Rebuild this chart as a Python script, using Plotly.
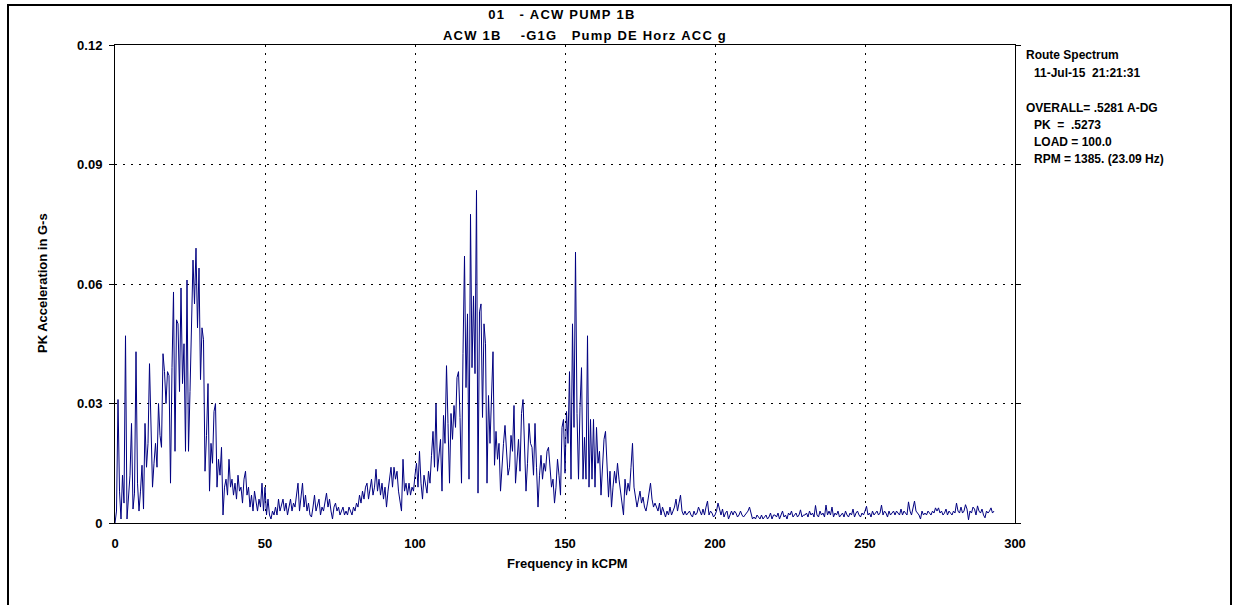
import plotly.graph_objects as go

# Spectrum amplitude in milli-g, one value every 0.5 kCPM starting at 0 kCPM
freq_step_kcpm = 0.5
accel_mg = [
    # 0 - 9.5
    0, 3, 31, 8, 1, 12, 5, 47, 1, 6, 12, 25, 3.5, 7.5, 43, 10, 3, 8, 14.5, 3.5,
    # 10 - 19.5
    25, 14, 20, 40, 23, 9, 15, 20, 14, 30, 22, 19, 42.5, 38, 30, 38, 37, 10, 39, 58,
    # 20 - 29.5
    18, 51, 50, 33, 59, 35, 45, 18, 61, 18, 33, 50, 66, 55, 69, 49, 64, 36, 49, 46,
    # 30 - 39.5
    13, 22, 35, 8, 20, 15, 28, 30, 9, 16, 12, 19, 2, 9, 11, 7, 16, 9, 11, 7,
    # 40 - 49.5
    10, 6, 12, 8, 9, 5, 11, 13, 7, 9, 4, 7, 3, 8, 5, 3, 6, 4, 10, 3,
    # 50 - 59.5
    9, 2, 6, 2, 1, 3, 2, 4, 2, 6, 3, 5, 6, 3, 5, 2, 4, 6, 3, 5,
    # 60 - 69.5
    4, 7, 10, 3, 6, 10, 4, 7, 3, 5, 2, 1.5, 4, 7, 3, 5, 6, 2, 4, 3,
    # 70 - 79.5
    5, 7.5, 4, 6, 3, 1, 4, 5, 3, 4, 2, 3, 4, 2, 3, 2, 4, 3, 2, 4,
    # 80 - 89.5
    3, 5, 4, 7, 5, 8, 6, 9, 10, 6, 8, 11, 7, 9, 13.5, 8, 11, 7, 10, 6,
    # 90 - 99.5
    9, 4, 8, 12, 14, 9, 14, 11, 13, 8, 5, 3, 16, 8, 10, 7, 10, 7, 9, 8,
    # 100 - 109.5
    12, 15, 9, 18, 10, 6, 12, 9, 7.5, 13, 10, 17, 23, 14, 30, 13, 18, 21, 8, 27,
    # 110 - 119.5
    20, 39.5, 25, 10, 27.5, 21, 29.5, 24, 36.5, 38, 26.5, 10, 42.5, 67, 34, 52.5, 11, 77.5, 39, 57,
    # 120 - 129.5
    37.5, 83.5, 7.5, 53, 55, 26.5, 50, 45, 10, 32, 20, 32, 43, 14.5, 23, 16, 20, 8, 15, 20,
    # 130 - 139.5
    24.5, 17, 12, 14, 22, 18, 29.5, 10, 16, 21, 13, 27.5, 31, 18, 8, 15, 25, 20, 19, 12,
    # 140 - 149.5
    25, 14, 4, 12, 17, 11, 15, 13, 18, 19, 13, 9, 11, 5, 9, 16, 12, 7, 24, 26,
    # 150 - 159.5
    12.5, 28, 20, 38, 11, 50, 24, 68, 27.5, 11, 29, 39, 11, 21.5, 11, 47, 9, 26, 11, 26,
    # 160 - 169.5
    9, 24, 15, 18, 7, 14, 21, 23, 12, 6.5, 13, 4, 9, 13, 10, 15, 11, 7.5, 5, 2,
    # 170 - 179.5
    11, 7, 10, 8, 14, 20, 9, 7, 4, 6, 8, 5, 6.5, 4, 3, 5, 7, 10, 6, 4,
    # 180 - 189.5
    5, 4, 3, 5, 2, 4, 3, 1.5, 3, 2, 4, 2, 3, 4, 6, 3, 5, 7, 3, 2,
    # 190 - 199.5
    3, 2, 2.5, 3, 2, 1.5, 3, 2, 2.5, 4, 3, 2, 3.5, 2, 4, 5.5, 2, 3, 2.5, 1.5,
    # 200 - 209.5
    2, 3, 5, 3, 2, 3.5, 1.5, 2.5, 3, 1, 2, 3, 2, 3, 2.5, 1.5, 2, 3, 2, 1.5,
    # 210 - 219.5
    2, 2.5, 3, 4, 2, 1, 1.5, 1, 2, 1.5, 1, 2, 1, 1.5, 2, 1, 1.5, 2.5, 1, 2,
    # 220 - 229.5
    2, 1.5, 2.5, 1, 2, 3, 1.5, 2, 1, 2.5, 2, 3, 1.5, 2, 2.5, 1.5, 2, 3.3, 1.5, 2,
    # 230 - 239.5
    2, 2.5, 1.5, 3, 2, 2.5, 1.5, 4.4, 2, 1.5, 3, 2, 2.5, 1.5, 4.5, 2, 3, 2, 4, 1.5,
    # 240 - 249.5
    2.5, 2, 3, 1.5, 2, 2.5, 1.5, 3, 2, 1.5, 2.5, 2, 3.5, 1.5, 2.5, 3, 2, 1.5, 2.5, 2,
    # 250 - 259.5
    3, 4.2, 2, 2.5, 1.5, 3, 2, 2.5, 3, 2, 2.5, 4.5, 2, 3, 2.5, 1.5, 3, 2, 2.5, 3,
    # 260 - 269.5
    2, 3, 2.5, 2, 3.5, 2, 3, 2.5, 2, 5.3, 3, 2, 3.5, 5.5, 3, 2.5, 2, 1, 3, 2,
    # 270 - 279.5
    2.5, 2, 3, 2.5, 2, 3, 2.5, 3.8, 3, 3.8, 2.5, 3, 2, 2.5, 3.5, 2, 3, 2.5, 2, 3,
    # 280 - 289.5
    2.5, 5, 3, 2.5, 4, 2.5, 3, 4.6, 3.5, 0.8, 3, 2.5, 4, 3.5, 2, 4.3, 3, 2.5, 3.5, 2,
    # 290 - 293
    1.3, 3, 2.5, 3, 3.8, 2.5, 3,
]

freq_kcpm = [i * freq_step_kcpm for i in range(len(accel_mg))]
accel_g = [v / 1000.0 for v in accel_mg]

x_ticks = [0, 50, 100, 150, 200, 250, 300]
x_tick_labels = ["0", "50", "100", "150", "200", "250", "300"]
y_ticks = [0, 0.03, 0.06, 0.09, 0.12]
y_tick_labels = ["0", "0.03", "0.06", "0.09", "0.12"]

title_lines = ["01   - ACW PUMP 1B", "ACW 1B    -G1G   Pump DE Horz ACC g"]
title_pos_px = [(562, 14), (585, 35)]
info_lines = [
    ("Route Spectrum", 0),
    ("11-Jul-15  21:21:31", 1),
    ("OVERALL= .5281 A-DG", 0),
    ("PK  =  .5273", 1),
    ("LOAD = 100.0", 1),
    ("RPM = 1385. (23.09 Hz)", 1),
]
info_y_px = [55, 73, 108, 125, 142, 159]

FONT = "Liberation Sans, Arial, sans-serif"
W, H = 1239, 605
L, R, T, B = 115, 1015, 45, 523
PW, PH = R - L, B - T


def px_to_paper_x(px):
    return (px - L) / PW


def px_to_paper_y(py):
    return (B - py) / PH


def keep_spaces(s):
    return s.replace(" ", "&nbsp;")


fig = go.Figure()
fig.add_trace(go.Scatter(
    x=freq_kcpm, y=accel_g, mode="lines",
    line=dict(color="#000080", width=1),
    hoverinfo="x+y", showlegend=False,
))

annotations = []
for text, (px, py) in zip(title_lines, title_pos_px):
    annotations.append(dict(
        text="<b>%s</b>" % keep_spaces(text), x=px_to_paper_x(px), y=px_to_paper_y(py),
        xref="paper", yref="paper", showarrow=False, xanchor="center", yanchor="middle",
        font=dict(family=FONT, size=13, color="black"),
    ))
for (text, indent), py in zip(info_lines, info_y_px):
    annotations.append(dict(
        text="<b>%s</b>" % keep_spaces(text), x=px_to_paper_x(1024 + 8 * indent), y=px_to_paper_y(py),
        xref="paper", yref="paper", showarrow=False, xanchor="left", yanchor="middle",
        font=dict(family=FONT, size=12, color="black"),
    ))
annotations.append(dict(
    text="<b>Frequency in kCPM</b>", x=px_to_paper_x(567), y=px_to_paper_y(563),
    xref="paper", yref="paper", showarrow=False, xanchor="center", yanchor="middle",
    font=dict(family=FONT, size=13, color="black"),
))
annotations.append(dict(
    text="<b>PK Acceleration in G-s</b>", x=px_to_paper_x(42), y=px_to_paper_y(283),
    xref="paper", yref="paper", showarrow=False, xanchor="center", yanchor="middle",
    textangle=-90, font=dict(family=FONT, size=13, color="black"),
))

shapes = [dict(
    type="rect", xref="paper", yref="paper",
    x0=px_to_paper_x(8), x1=px_to_paper_x(1231),
    y0=px_to_paper_y(610), y1=px_to_paper_y(5),
    line=dict(color="black", width=2), fillcolor="rgba(0,0,0,0)", layer="below",
)]

fig.update_layout(
    width=W, height=H,
    margin=dict(l=L, r=W - R, t=T, b=H - B, pad=0),
    paper_bgcolor="white", plot_bgcolor="white",
    font=dict(family=FONT, size=12, color="black"),
    annotations=annotations, shapes=shapes,
    showlegend=False,
)
fig.update_xaxes(
    range=[0, 300], tickvals=x_ticks, ticktext=x_tick_labels,
    tickfont=dict(family=FONT, size=13, color="black", weight="bold"),
    showline=True, linecolor="black", linewidth=1, mirror=True,
    ticks="", showgrid=True, gridcolor="black", gridwidth=1, griddash="2px,6px",
    zeroline=False, ticklabelstandoff=8,
)
fig.update_yaxes(
    range=[0, 0.12], tickvals=y_ticks, ticktext=y_tick_labels,
    tickfont=dict(family=FONT, size=13, color="black", weight="bold"),
    showline=True, linecolor="black", linewidth=1, mirror="ticks",
    ticks="outside", ticklen=5, tickcolor="black",
    showgrid=True, gridcolor="black", gridwidth=1, griddash="2px,6px",
    zeroline=False, ticklabelstandoff=4,
)

# widen the character spacing of the two title lines, as in the original
post_js = """
var anns = document.querySelectorAll('.annotation-text');
for (var i = 0; i < 2 && i < anns.length; i++) {
  anns[i].style.letterSpacing = '1.2px';
}
"""

fig.write_html("out.html", post_script=post_js)
